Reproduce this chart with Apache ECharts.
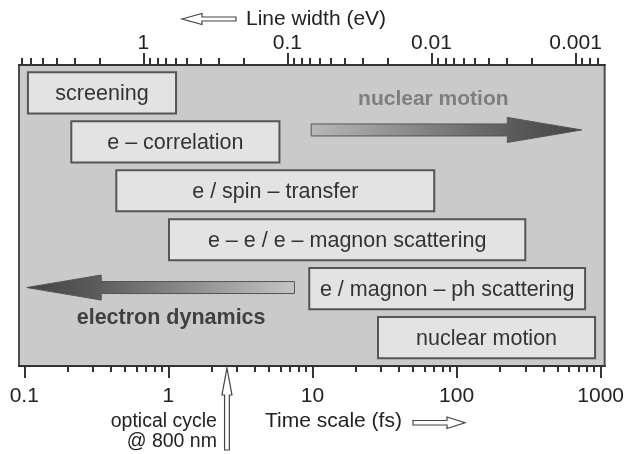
<!DOCTYPE html>
<html>
<head>
<meta charset="utf-8">
<script src="https://cdn.jsdelivr.net/npm/echarts@6/dist/echarts.min.js"></script>
<style>
html,body{margin:0;padding:0;background:#fff;}
#chart{width:627px;height:454px;}
</style>
</head>
<body>
<div id="chart"></div>
<script>
// ---- data (time in fs) ----
const X_MIN = 0.0919;
const X_MAX = 1066;
const majorTimes = [0.1, 1, 10, 100, 1000];
const minorTimes = [0.2,0.3,0.4,0.5,0.6,0.7,0.8,0.9, 2,3,4,5,6,7,8,9, 20,30,40,50,60,70,80,90, 200,300,400,500,600,700,800,900];
const HBAR = 0.67; // eV*fs, line width <-> time
const majorEnergies = [1, 0.1, 0.01, 0.001];
const minorEnergies = [7,6,5,4,3,2, 0.9,0.8,0.7,0.6,0.5,0.4,0.3,0.2, 0.09,0.08,0.07,0.06,0.05,0.04,0.03,0.02, 0.009,0.008,0.007,0.006,0.005,0.004,0.003,0.002, 0.0009,0.0008,0.0007];

const boxLabels = ['screening', 'e \u2013 correlation', 'e / spin \u2013 transfer', 'e \u2013 e / e \u2013 magnon scattering', 'e / magnon \u2013 ph scattering', 'nuclear motion'];
const boxStart = [0.106, 0.212, 0.435, 1.01, 9.5, 28.5];
const boxEnd = [1.13, 5.9, 70, 300, 780, 915];
const boxRow = [0, 1, 2, 3, 4, 5];

const arrowLabels = ['nuclear motion', 'electron dynamics'];
const arrowTail = [9.8, 7.5];
const arrowHeadBase = [225, 0.342];
const arrowTip = [740, 0.104];
const arrowRow = [0.757, 3.977];
const arrowLabelX = [69, 1.045];
const arrowLabelRow = [0.129, 4.607];

const opticalCycle = [2.55]; // fs, 800 nm
const opticalLabels = ['optical cycle', '@ 800 nm'];

// ---- chart ----
const FONT = 'Liberation Sans, Arial, Helvetica, sans-serif';
const chart = echarts.init(document.getElementById('chart'), null, {renderer: 'canvas'});

const fmtNum = v => String(+(+v).toPrecision(3));
const topMajor = majorEnergies.map(e => HBAR / e);
const topMinor = minorEnergies.map(e => HBAR / e);

function baseX(pos) {
  return {
    type: 'log', position: pos, min: X_MIN, max: X_MAX, gridIndex: 0,
    axisLine: {show: true, onZero: false, lineStyle: {color: '#333', width: 2}},
    splitLine: {show: false}, minorTick: {show: false}, minorSplitLine: {show: false}
  };
}

const boxData = boxLabels.map((l, i) => [boxStart[i], boxEnd[i], boxRow[i], i]);
const arrowData = arrowLabels.map((l, i) => [arrowTail[i], arrowHeadBase[i], arrowTip[i], arrowRow[i], arrowLabelX[i], arrowLabelRow[i], i]);

const option = {
  animation: false,
  backgroundColor: '#ffffff',
  grid: {left: 19, right: 19, top: 65, bottom: 88, show: true, backgroundColor: '#cacaca', borderColor: '#4d4d4d', borderWidth: 2},
  xAxis: [
    Object.assign(baseX('bottom'), {
      axisTick: {show: true, inside: false, length: 12, customValues: majorTimes, lineStyle: {color: '#333', width: 2}},
      axisLabel: {show: true, customValues: majorTimes, formatter: v => fmtNum(v), fontSize: 21, fontFamily: FONT, color: '#222', margin: 20, showMinLabel: true, showMaxLabel: true}
    }),
    Object.assign(baseX('bottom'), {
      axisTick: {show: true, inside: false, length: 6, customValues: minorTimes, lineStyle: {color: '#333', width: 2}},
      axisLabel: {show: false}
    }),
    Object.assign(baseX('top'), {
      axisTick: {show: true, inside: false, length: 12, customValues: topMajor, lineStyle: {color: '#333', width: 2}},
      axisLabel: {show: true, customValues: topMajor, formatter: v => fmtNum(HBAR / v), fontSize: 21, fontFamily: FONT, color: '#222', margin: 11}
    }),
    Object.assign(baseX('top'), {
      axisTick: {show: true, inside: false, length: 7, customValues: topMinor, lineStyle: {color: '#333', width: 2}},
      axisLabel: {show: false}
    })
  ],
  yAxis: {type: 'value', min: -0.57, max: 5.58, inverse: true, show: false, splitLine: {show: false}},
  graphic: [
    {type: 'polygon', shape: {points: [[182,19],[202,13.5],[202,17],[236,17],[236,21],[202,21],[202,24.5]]}, style: {fill: '#fff', stroke: '#444', lineWidth: 1.2}},
    {type: 'text', style: {text: 'Line width (eV)', x: 246, y: 19, verticalAlign: 'middle', align: 'left', fontSize: 21, fontFamily: FONT, fill: '#222'}},
    {type: 'text', style: {text: 'Time scale (fs)', x: 265, y: 421, verticalAlign: 'middle', align: 'left', fontSize: 21, fontFamily: FONT, fill: '#222'}},
    {type: 'polygon', shape: {points: [[413,420.5],[447,420.5],[447,417],[465,422.7],[447,428.5],[447,425],[413,425]]}, style: {fill: '#fff', stroke: '#444', lineWidth: 1.2}}
  ],
  series: [
    {
      type: 'custom', name: 'boxes', xAxisIndex: 0, yAxisIndex: 0,
      data: boxData,
      renderItem: function (params, api) {
        const i = api.value(3);
        const row = api.value(2);
        const a = api.coord([api.value(0), row - 0.42]);
        const b = api.coord([api.value(1), row + 0.42]);
        return {
          type: 'group',
          children: [
            {type: 'rect', shape: {x: a[0], y: a[1], width: b[0] - a[0], height: b[1] - a[1]}, style: {fill: '#e3e3e3', stroke: '#555', lineWidth: 2}},
            {type: 'text', style: {text: boxLabels[i], x: (a[0] + b[0]) / 2, y: (a[1] + b[1]) / 2 + 1, align: 'center', verticalAlign: 'middle', fontSize: 21.5, fontFamily: FONT, fill: '#333'}}
          ]
        };
      }
    },
    {
      type: 'custom', name: 'arrows', xAxisIndex: 0, yAxisIndex: 0,
      data: arrowData,
      renderItem: function (params, api) {
        const row = api.value(3);
        const i = api.value(6);
        const pT = api.coord([api.value(0), row]);
        const pB = api.coord([api.value(1), row]);
        const pP = api.coord([api.value(2), row]);
        const lp = api.coord([api.value(4), api.value(5)]);
        const y = pT[1], s = 6, h = 12.5;
        const grad = new echarts.graphic.LinearGradient(pT[0], 0, pP[0], 0, [
          {offset: 0, color: i === 0 ? '#b8b8b8' : '#c4c4c4'},
          {offset: 0.75, color: '#5a5a5a'},
          {offset: 1, color: '#454545'}
        ], true);
        return {
          type: 'group',
          children: [
            {type: 'polygon', shape: {points: [[pT[0], y - s], [pB[0], y - s], [pB[0], y - h], [pP[0], y], [pB[0], y + h], [pB[0], y + s], [pT[0], y + s]]}, style: {fill: grad, stroke: '#555', lineWidth: 1}},
            {type: 'text', style: {text: arrowLabels[i], x: lp[0], y: lp[1], align: 'center', verticalAlign: 'middle', fontSize: i === 0 ? 21 : 21.5, fontWeight: 'bold', fontFamily: FONT, fill: i === 0 ? '#7e7e7e' : '#404040'}}
          ]
        };
      }
    },
    {
      type: 'custom', name: 'optical', xAxisIndex: 0, yAxisIndex: 0, clip: false,
      data: opticalCycle.map(v => [v]),
      renderItem: function (params, api) {
        const cs = params.coordSys;
        const x = api.coord([api.value(0), 0])[0];
        const bottom = cs.y + cs.height;
        const tip = bottom + 2, base = tip + 27, end = bottom + 84;
        return {
          type: 'group',
          children: [
            {type: 'polygon', shape: {points: [[x, tip], [x + 5, base], [x + 2.4, base], [x + 2.4, end], [x - 2.4, end], [x - 2.4, base], [x - 5, base]]}, style: {fill: '#fff', stroke: '#444', lineWidth: 1.2}},
            {type: 'text', style: {text: opticalLabels[0], x: x - 10, y: bottom + 56, align: 'right', verticalAlign: 'middle', fontSize: 19.5, fontFamily: FONT, fill: '#222'}},
            {type: 'text', style: {text: opticalLabels[1], x: x - 10, y: bottom + 76, align: 'right', verticalAlign: 'middle', fontSize: 19.5, fontFamily: FONT, fill: '#222'}}
          ]
        };
      }
    }
  ]
};
chart.setOption(option);
</script>
</body>
</html>
